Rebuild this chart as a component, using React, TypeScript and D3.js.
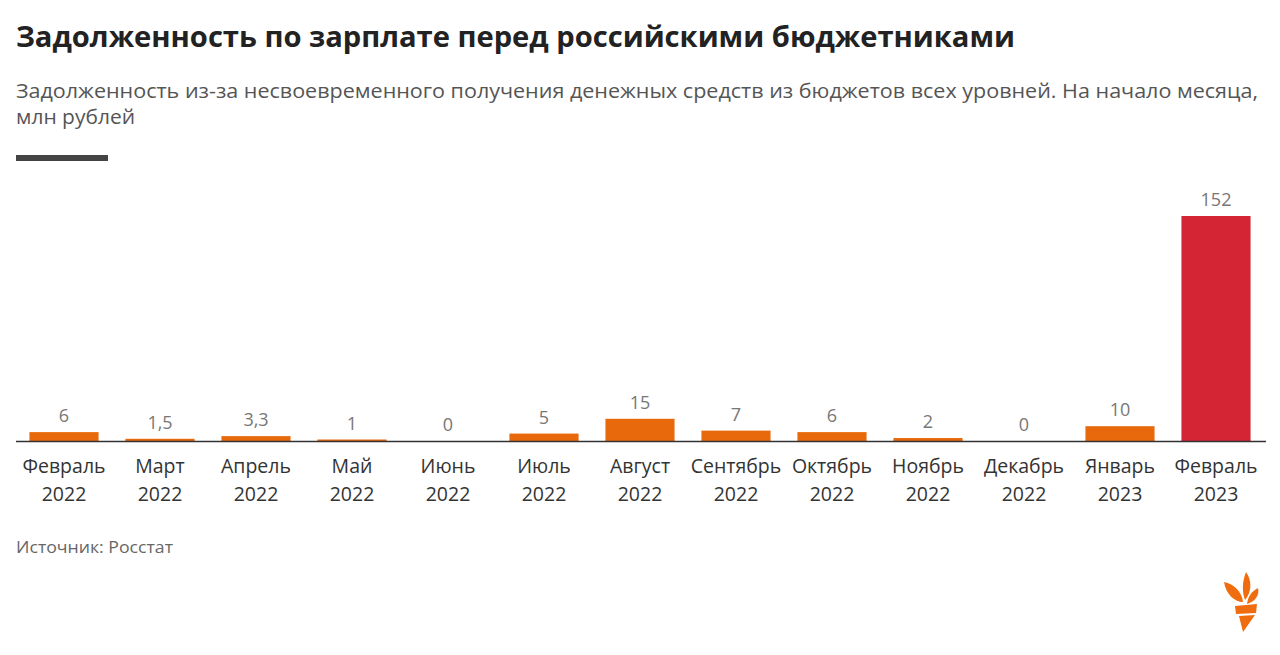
import React from "react";
import * as d3 from "d3";

const months = ["Февраль", "Март", "Апрель", "Май", "Июнь", "Июль", "Август", "Сентябрь", "Октябрь", "Ноябрь", "Декабрь", "Январь", "Февраль"];
const years = ["2022", "2022", "2022", "2022", "2022", "2022", "2022", "2022", "2022", "2022", "2022", "2023", "2023"];
const values = [6, 1.5, 3.3, 1, 0, 5, 15, 7, 6, 2, 0, 10, 152];
const valueLabels = ["6", "1,5", "3,3", "1", "0", "5", "15", "7", "6", "2", "0", "10", "152"];

const W = 1280;
const H = 655;
const FONT = "'Open Sans', 'Noto Sans', sans-serif";
const ORANGE = "#e8690b";
const RED = "#d42535";

export default function App() {
  const idx = months.map((_, i) => String(i));
  const x = d3.scaleBand<string>().domain(idx).range([16, 1264]).paddingInner(0.28).paddingOuter(0.14);
  const y = d3.scaleLinear().domain([0, 152]).range([441, 216]);
  const bw = x.bandwidth();

  return (
    <svg width={W} height={H} style={{ position: "absolute", left: 0, top: 0, background: "#fff" }} fontFamily={FONT}>
      <rect x={0} y={0} width={W} height={H} fill="#fff" />
      <text x={16} y={47} fontSize={29} fontWeight={700} fill="#222" textLength={999} lengthAdjust="spacingAndGlyphs">
        Задолженность по зарплате перед российскими бюджетниками
      </text>
      <text x={16} y={98} fontSize={19.5} fill="#555" textLength={1242} lengthAdjust="spacingAndGlyphs">
        Задолженность из-за несвоевременного получения денежных средств из бюджетов всех уровней. На начало месяца,
      </text>
      <text x={16} y={124} fontSize={19.5} fill="#555" textLength={119} lengthAdjust="spacingAndGlyphs">
        млн рублей
      </text>
      <rect x={16} y={155} width={92} height={6} fill="#444" />

      {values.map((v, i) => {
        const bx = x(String(i))!;
        const top = y(v);
        return (
          <g key={i}>
            {v > 0 && (
              <rect x={bx} y={top} width={bw} height={y(0) - top} fill={i === values.length - 1 ? RED : ORANGE} />
            )}
            <text x={bx + bw / 2} y={top - 10} textAnchor="middle" fontSize={18} fill="#777">
              {valueLabels[i]}
            </text>
            <text x={bx + bw / 2} y={473} textAnchor="middle" fontSize={19.5} fill="#333">
              {months[i]}
            </text>
            <text x={bx + bw / 2} y={501} textAnchor="middle" fontSize={19.5} fill="#333">
              {years[i]}
            </text>
          </g>
        );
      })}
      <line x1={16} x2={1266} y1={441.5} y2={441.5} stroke="#333" strokeWidth={1.5} />

      <text x={16} y={553} fontSize={16} fill="#666" textLength={157} lengthAdjust="spacingAndGlyphs">
        Источник: Росстат
      </text>

      <g transform="translate(1222,566)" fill="#ef6c0f">
        <path d="M24 6 C30 14 30 26 23 34 C20 26 20 16 24 6 Z" />
        <path d="M2 16 C12 18 20 26 21 36 C12 36 4 28 2 16 Z" />
        <path d="M36 22 C38 30 32 36 25 38 C26 30 30 25 36 22 Z" />
        <path d="M13 40 L35 38 L34 47 L14 48 Z" />
        <path d="M17 50 L33 49 L21 66 Z" />
      </g>
    </svg>
  );
}
